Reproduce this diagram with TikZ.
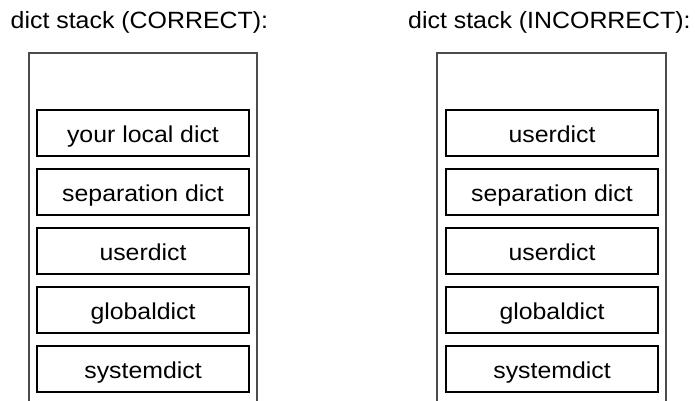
\documentclass[tikz,border=0pt]{standalone}
\usepackage{fontspec}
\usepackage{graphicx}
\setmainfont{Liberation Sans}
\newcommand{\wtext}[1]{\scalebox{1.08}[1]{#1}}
\newcommand{\ttext}[1]{\scalebox{1.06}[1]{#1}}
\begin{document}
\begin{tikzpicture}[x=1pt,y=1pt,
  dictbox/.style={draw=black,line width=1.05pt,minimum width=212pt,minimum height=46pt,inner sep=0pt,text height=18pt,text depth=0pt,font=\fontsize{23}{27}\selectfont},
  titletext/.style={anchor=base west,inner sep=0pt,font=\fontsize{23.5}{28}\selectfont},
  outerbox/.style={draw=black!70,line width=1.2pt}]
\useasboundingbox (0,0) rectangle (695,400);
% titles
\node[titletext] (t1) at (10.5,371.5) {\ttext{dict stack (CORRECT):}};
\node[titletext] (t2) at (408,371.5) {\ttext{dict stack (INCORRECT):}};
% outer stacks
\draw[outerbox] (29,-2) -- (29,347) -- (257,347) -- (257,-2);
\draw[outerbox] (437,-2) -- (437,347) -- (666,347) -- (666,-2);
% left stack
\node[dictbox] (l1) at (143,267) {\wtext{your local dict}};
\node[dictbox] (l2) at (143,208) {\wtext{separation dict}};
\node[dictbox] (l3) at (143,149) {\wtext{userdict}};
\node[dictbox] (l4) at (143,90) {\wtext{globaldict}};
\node[dictbox] (l5) at (143,31) {\wtext{systemdict}};
% right stack
\node[dictbox] (r1) at (552,267) {\wtext{userdict}};
\node[dictbox] (r2) at (552,208) {\wtext{separation dict}};
\node[dictbox] (r3) at (552,149) {\wtext{userdict}};
\node[dictbox] (r4) at (552,90) {\wtext{globaldict}};
\node[dictbox] (r5) at (552,31) {\wtext{systemdict}};
\end{tikzpicture}
\end{document}
